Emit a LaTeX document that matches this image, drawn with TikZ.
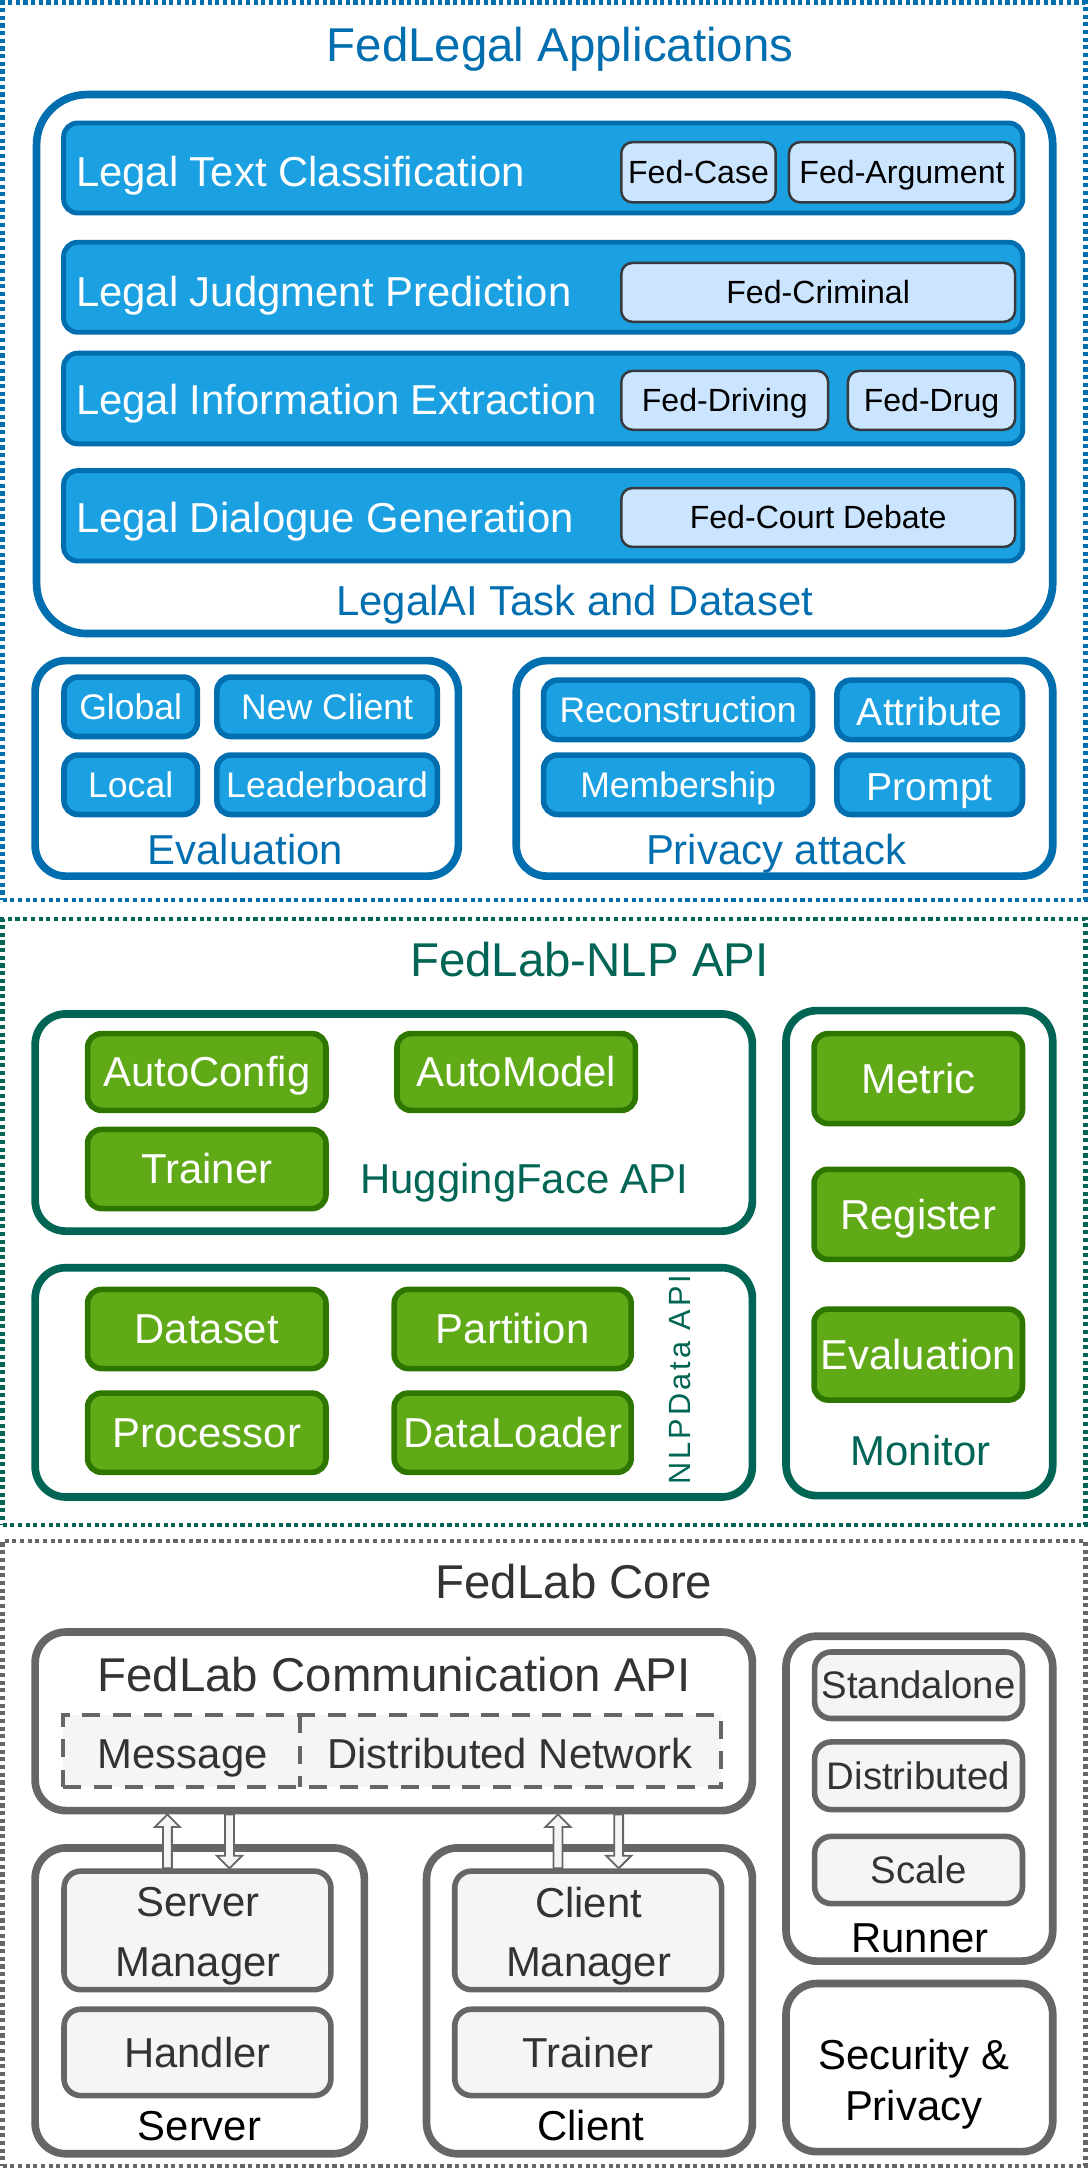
\documentclass[tikz,border=0pt]{standalone}
\usepackage{fontspec}
\setmainfont{Liberation Sans}
\usetikzlibrary{arrows.meta,calc}
\definecolor{blueL}{HTML}{006EAF}
\definecolor{blueF}{HTML}{1BA1E2}
\definecolor{subF}{HTML}{CCE5FF}
\definecolor{subD}{HTML}{36393D}
\definecolor{tealC}{HTML}{006554}
\definecolor{greenF}{HTML}{60A917}
\definecolor{greenD}{HTML}{2D7600}
\definecolor{grayD}{HTML}{666666}
\definecolor{grayF}{HTML}{F5F5F5}
\definecolor{grayT}{HTML}{333333}
\newcommand\bx[7]{\node[#2,anchor=north west,minimum width={(#5-#3)*1pt},minimum height={(#6-#4)*1pt}] (#1) at (#3,#4) {#7};}
% open block arrows: #1 = start (tail), #2 = end (tip)
\newcommand\arrUp[2]{\filldraw[arrshape] let \p1=(#1),\p2=(#2) in (\x1,\y2) -- (\x1+9pt,\y2-9pt) -- (\x1+3.2pt,\y2-9pt) -- (\x1+3.2pt,\y1) -- (\x1-3.2pt,\y1) -- (\x1-3.2pt,\y2-9pt) -- (\x1-9pt,\y2-9pt) -- cycle;}
\newcommand\arrDown[2]{\filldraw[arrshape] let \p1=(#1),\p2=(#2) in (\x1,\y2) -- (\x1+9pt,\y2+9pt) -- (\x1+3.2pt,\y2+9pt) -- (\x1+3.2pt,\y1) -- (\x1-3.2pt,\y1) -- (\x1-3.2pt,\y2+9pt) -- (\x1-9pt,\y2+9pt) -- cycle;}
\tikzset{
  every node/.style={inner sep=0pt,outer sep=0pt},
  fA/.style={font=\fontsize{34}{40}\selectfont,text height=27.2pt,text depth=3.4pt},
  fB/.style={font=\fontsize{30}{36}\selectfont,text height=24pt,text depth=3pt},
  fC/.style={font=\fontsize{23}{28}\selectfont,text height=18.4pt,text depth=2.3pt},
  fD/.style={font=\fontsize{25.5}{30}\selectfont,text height=20.4pt,text depth=2.55pt},
  fE/.style={font=\fontsize{28}{33}\selectfont,text height=22.4pt,text depth=2.8pt},
  fF/.style={font=\fontsize{27.5}{33}\selectfont,text height=22pt,text depth=2.75pt},
  dotbox/.style={line width=3pt,dash pattern=on 3pt off 2.5pt},
  bigblue/.style={draw=blueL,line width=5.5pt,rounded corners=36pt,fill=white},
  midblue/.style={draw=blueL,line width=5.5pt,rounded corners=22pt,fill=white},
  rowbox/.style={draw=blueL,line width=3.5pt,fill=blueF,rounded corners=10pt},
  subbox/.style={draw=subD,line width=1.8pt,fill=subF,rounded corners=8pt,text=black,fC},
  btnblue/.style={draw=blueL,line width=4pt,fill=blueF,rounded corners=10pt,text=white},
  tealbox/.style={draw=tealC,line width=5.5pt,rounded corners=22pt,fill=white},
  btngreen/.style={draw=greenD,line width=4pt,fill=greenF,rounded corners=10pt,text=white,fB},
  grayout/.style={draw=grayD,line width=5.5pt,rounded corners=22pt,fill=white},
  grayin/.style={draw=grayD,line width=4pt,fill=grayF,rounded corners=12pt,text=grayT},
  dashbox/.style={draw=grayD,line width=3pt,dash pattern=on 13pt off 9pt,fill=grayF},
  arrshape/.style={fill=grayF,draw=grayD,line width=1.3pt,line join=miter},
  twoline/.style={font=\fontsize{30}{42.6}\selectfont,align=center},
}
\begin{document}
\begin{tikzpicture}[x=1pt,y=-1pt]
\fill[white] (0,0) rectangle (780,1565);
\useasboundingbox (0,0) rectangle (780,1565);

% ===== FedLegal Applications =====
\bx{fedlegal}{dotbox,draw=blueL}{1.8}{1.8}{778.2}{645}{}
\node[fA,text=blueL] (fedlegalt) at (401.5,32) {FedLegal Applications};
\bx{legalai}{bigblue}{26.2}{67.8}{754.7}{454.2}{}
\node[fB,text=blueL] (legalait) at (412,431) {LegalAI Task and Dataset};

\bx{row1}{rowbox}{45.6}{88.2}{733.2}{152.7}{}
\bx{row2}{rowbox}{45.6}{173.7}{733.2}{238.2}{}
\bx{row3}{rowbox}{45.6}{253.2}{733.2}{318.2}{}
\bx{row4}{rowbox}{45.6}{337.4}{733.2}{402.2}{}
\node[fB,text=white,anchor=west] (row1t) at (54.5,123) {Legal Text Classification};
\node[fB,text=white,anchor=west] (row2t) at (54.5,209) {Legal Judgment Prediction};
\node[fB,text=white,anchor=west] (row3t) at (54.5,287) {Legal Information Extraction};
\node[fB,text=white,anchor=west] (row4t) at (54.5,371) {Legal Dialogue Generation};

\bx{fcase}{subbox}{445.4}{101.9}{556.1}{145.1}{Fed-Case}
\bx{farg}{subbox}{565.6}{101.9}{727.7}{145.1}{Fed-Argument}
\bx{fcrim}{subbox}{445.4}{188.5}{727.7}{230.7}{Fed-Criminal}
\bx{fdriv}{subbox}{445.4}{265.9}{593.7}{308.1}{Fed-Driving}
\bx{fdrug}{subbox}{607.9}{265.9}{727.7}{308.1}{Fed-Drug}
\bx{fcourt}{subbox}{445.4}{349.9}{727.7}{392.1}{Fed-Court Debate}

\bx{evalbox}{midblue}{25.2}{473.6}{328.6}{628.1}{}
\node[fB,text=blueL] (evalt) at (176,609.4) {Evaluation};
\bx{eglobal}{btnblue,fD}{45.9}{485.4}{141.5}{528}{Global}
\bx{enew}{btnblue,fD}{155.5}{485.4}{313.5}{528}{New Client}
\bx{elocal}{btnblue,fD}{45.9}{541.3}{141.5}{583.9}{Local}
\bx{elead}{btnblue,fD}{155.5}{541.3}{313.5}{583.9}{Leaderboard}

\bx{privbox}{midblue}{370.1}{473.6}{754.7}{628.1}{}
\node[fB,text=blueL] (privt) at (556.5,609.4) {Privacy attack};
\bx{precon}{btnblue,fD}{389.7}{487.6}{582.6}{530.2}{Reconstruction}
\bx{pattr}{btnblue,fE}{600}{487.6}{733}{530.2}{\raisebox{-1.5pt}{Attribute}}
\bx{pmemb}{btnblue,fD}{389.7}{541.3}{582.6}{583.9}{Membership}
\bx{pprompt}{btnblue,fE}{600}{541.3}{733}{583.9}{\raisebox{-1.5pt}{Prompt}}

% ===== FedLab-NLP API =====
\bx{nlpapi}{dotbox,draw=tealC}{1.8}{659}{778.2}{1093}{}
\node[fA,text=tealC] (nlpapit) at (422.5,688) {FedLab-NLP API};

\bx{hfbox}{tealbox}{25.2}{726.9}{539.4}{882.6}{}
\bx{autoconf}{btngreen}{62.8}{741}{233.7}{796}{AutoConfig}
\bx{automod}{btngreen}{284.6}{741}{455.5}{796}{AutoModel}
\bx{trainer}{btngreen}{62.8}{809.7}{233.7}{866.4}{Trainer}
\node[fB,text=tealC] (hft) at (376,845) {HuggingFace API};

\bx{ndbox}{tealbox}{25.2}{908.8}{539.4}{1073.2}{}
\bx{dataset}{btngreen}{62.8}{924.4}{233.7}{981.1}{Dataset}
\bx{partition}{btngreen}{282.6}{924.4}{452.5}{981.1}{Partition}
\bx{processor}{btngreen}{62.8}{998.7}{233.7}{1055.5}{Processor}
\bx{dataloader}{btngreen}{282.6}{998.7}{452.5}{1055.5}{DataLoader}
\node[font=\fontsize{22}{26}\selectfont\addfontfeature{LetterSpace=10},text height=17.6pt,text depth=2.2pt,text=tealC,rotate=90] (ndt) at (487.5,989) {NLPData API};

\bx{monbox}{tealbox}{563.5}{724.5}{754.7}{1072.2}{}
\bx{metric}{btngreen}{583.6}{741}{733}{805.5}{Metric}
\bx{register}{btngreen}{583.6}{838.3}{733}{902.9}{Register}
\bx{meval}{btngreen}{583.6}{938.5}{733}{1003.7}{Evaluation}
\node[fB,text=tealC] (mont) at (660,1040) {Monitor};

% ===== FedLab Core =====
\bx{core}{dotbox,draw=grayD}{1.8}{1104.8}{778.2}{1553}{}
\node[fA,text=grayT] (coret) at (411.5,1134) {FedLab Core};

\bx{comm}{grayout}{25.2}{1170}{539.4}{1298}{}
\node[fA,text=grayT] (commt) at (282.5,1200.6) {FedLab Communication API};
\bx{msgbox}{dashbox}{45.4}{1229.4}{516.8}{1281.1}{}
\coordinate (divx) at (215.3,1255);
\draw[draw=grayD,line width=3pt,dash pattern=on 13pt off 9pt] (msgbox.north -| divx) -- (msgbox.south -| divx);
\node[fB,text=grayT] (msgt) at (131,1257) {Message};
\node[fB,text=grayT] (distnt) at (365.5,1257) {Distributed Network};

\bx{server}{grayout}{25.2}{1324.8}{261.2}{1544}{}
\bx{smgr}{grayin}{45.9}{1341.4}{237.2}{1426.4}{}
\node[twoline,text=grayT] (smgrt) at (142,1388) {Server\\Manager};
\bx{handler}{grayin,fB}{45.9}{1440.4}{237.2}{1502.3}{Handler}
\node[fB,text=black] (servert) at (143,1524) {Server};

\bx{client}{grayout}{305.8}{1324.8}{539.4}{1544}{}
\bx{cmgr}{grayin}{326}{1341.4}{517.3}{1426.4}{}
\node[twoline,text=grayT] (cmgrt) at (422,1388) {Client\\Manager};
\bx{ctrainer}{grayin,fB}{326}{1440.4}{517.3}{1502.3}{Trainer}
\node[fB,text=black] (clientt) at (423.5,1524) {Client};

\bx{runner}{grayout}{563.5}{1173}{754.7}{1405.9}{}
\bx{standalone}{grayin,fF}{584}{1184.3}{733}{1232}{Standalone}
\bx{distributed}{grayin,fF}{584}{1248.8}{733}{1297.3}{Distributed}
\bx{scale}{grayin,fF}{584}{1316.5}{733}{1364.7}{Scale}
\node[fB,text=black] (runnert) at (659.5,1389) {Runner};

\bx{security}{grayout}{563.5}{1422}{754.7}{1542.5}{}
\node[font=\fontsize{30}{37}\selectfont,align=center,text=black] (securityt) at (655,1494) {Security \&\\Privacy};

% arrows between the Communication API and the managers
\coordinate (sa1) at (120,1320);
\coordinate (sa2) at (164.5,1320);
\coordinate (ca1) at (400,1320);
\coordinate (ca2) at (443.5,1320);
\arrUp{[yshift=2pt]sa1 |- smgr.north}{[yshift=-2.75pt]sa1 |- comm.south}
\arrDown{[yshift=-2.75pt]sa2 |- comm.south}{[yshift=2pt]sa2 |- smgr.north}
\arrUp{[yshift=2pt]ca1 |- cmgr.north}{[yshift=-2.75pt]ca1 |- comm.south}
\arrDown{[yshift=-2.75pt]ca2 |- comm.south}{[yshift=2pt]ca2 |- cmgr.north}
\end{tikzpicture}
\end{document}
